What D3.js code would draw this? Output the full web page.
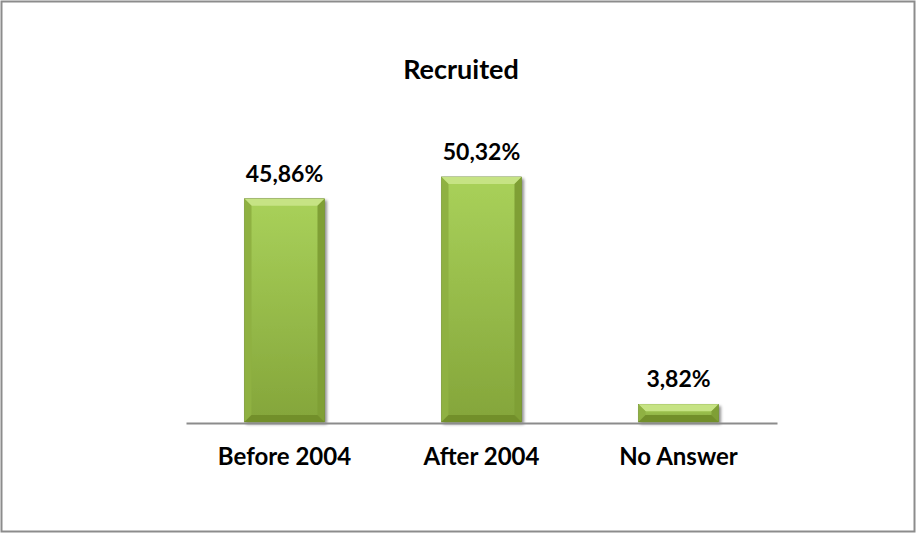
<!DOCTYPE html>
<html>
<head>
<meta charset="utf-8">
<script src="https://cdn.jsdelivr.net/npm/d3@7"></script>
<style>
  body { margin: 0; background: #fff; }
  svg { display: block; font-family: Lato, "Open Sans", sans-serif; }
</style>
</head>
<body>
<svg id="chart"></svg>
<script>
let categories = ['Before 2004', 'After 2004', 'No Answer']
let values = [45.86, 50.32, 3.82]
let labels = ['45,86%', '50,32%', '3,82%']
let title = 'Recruited'

let width = 916
let height = 533
let axisY = 423
let left = 186
let right = 777

let svg = d3.select('#chart')
    .attr('width', width)
    .attr('height', height)

// outer frame
svg.append('rect')
    .attr('x', 1.5).attr('y', 1.5)
    .attr('width', width - 3).attr('height', height - 3)
    .attr('fill', '#fff')
    .attr('stroke', '#8c8c8c')
    .attr('stroke-width', 2)

let xScale = d3.scaleBand()
    .domain(categories)
    .range([left, right])
    .paddingInner(0.594)
    .paddingOuter(0.297)

let yScale = d3.scaleLinear()
    .domain([0, 60])
    .range([axisY, axisY - 60 * 4.89])

let defs = svg.append('defs')
let grad = defs.append('linearGradient')
    .attr('id', 'face')
    .attr('x1', 0).attr('y1', 0).attr('x2', 0).attr('y2', 1)
grad.append('stop').attr('offset', '0%').attr('stop-color', '#a9d15a')
grad.append('stop').attr('offset', '100%').attr('stop-color', '#84a53a')

let shadow = defs.append('filter').attr('id', 'shadow')
    .attr('x', '-20%').attr('y', '-20%').attr('width', '150%').attr('height', '150%')
shadow.append('feGaussianBlur').attr('in', 'SourceAlpha').attr('stdDeviation', 1.5)
shadow.append('feOffset').attr('dx', 2).attr('dy', 2).attr('result', 'b')
shadow.append('feComponentTransfer').append('feFuncA').attr('type', 'linear').attr('slope', 0.45)
let merge = shadow.append('feMerge')
merge.append('feMergeNode')
merge.append('feMergeNode').attr('in', 'SourceGraphic')

// title (sits a little left of the plot centre in the original)
svg.append('text')
    .attr('x', 461)
    .attr('y', 79)
    .attr('text-anchor', 'middle')
    .attr('font-size', 27)
    .attr('font-weight', 'bold')
    .attr('fill', '#000')
    .text(title)

let data = categories.map((c, i) => ({ cat: c, value: values[i], label: labels[i] }))

let bars = svg.selectAll('g.bar')
    .data(data)
    .enter()
    .append('g')
    .attr('class', 'bar')
    .attr('filter', 'url(#shadow)')

bars.each(function (d) {
    let g = d3.select(this)
    let x0 = xScale(d.cat)
    let x1 = x0 + xScale.bandwidth()
    let y0 = yScale(d.value)
    let y1 = yScale(0) - 1
    let b = Math.min(7, (y1 - y0) / 2.5)

    g.append('rect')
        .attr('x', x0).attr('y', y0)
        .attr('width', x1 - x0).attr('height', y1 - y0)
        .attr('fill', 'url(#face)')
        .attr('stroke', '#5f7a22')
        .attr('stroke-width', 0.6)

    let poly = (pts, fill) => g.append('polygon')
        .attr('points', pts.map(p => p.join(',')).join(' '))
        .attr('fill', fill)

    // top bevel
    poly([[x0, y0], [x1, y0], [x1 - b, y0 + b], [x0 + b, y0 + b]], '#c6e384')
    // left bevel
    poly([[x0, y0], [x0 + b, y0 + b], [x0 + b, y1 - b], [x0, y1]], '#8fb142')
    // right bevel
    poly([[x1, y0], [x1 - b, y0 + b], [x1 - b, y1 - b], [x1, y1]], '#7f9f35')
    // bottom bevel
    poly([[x0, y1], [x0 + b, y1 - b], [x1 - b, y1 - b], [x1, y1]], '#728f2c')
})

// value labels
svg.selectAll('text.value')
    .data(data)
    .enter()
    .append('text')
    .attr('class', 'value')
    .attr('x', d => xScale(d.cat) + xScale.bandwidth() / 2)
    .attr('y', d => yScale(d.value) - 17)
    .attr('text-anchor', 'middle')
    .attr('font-size', 23)
    .attr('font-weight', 'bold')
    .attr('fill', '#000')
    .text(d => d.label)

// x axis
let xAxis = d3.axisBottom(xScale).tickSize(0)
let axisG = svg.append('g')
    .attr('transform', 'translate(0,' + axisY + ')')
    .call(xAxis)
axisG.select('.domain').attr('stroke', '#8c8c8c').attr('stroke-width', 2)
axisG.selectAll('.tick text')
    .attr('y', 42)
    .attr('dy', 0)
    .attr('font-size', 24)
    .attr('font-weight', 'bold')
    .attr('font-family', 'Lato, "Open Sans", sans-serif')
    .attr('fill', '#000')
</script>
</body>
</html>
